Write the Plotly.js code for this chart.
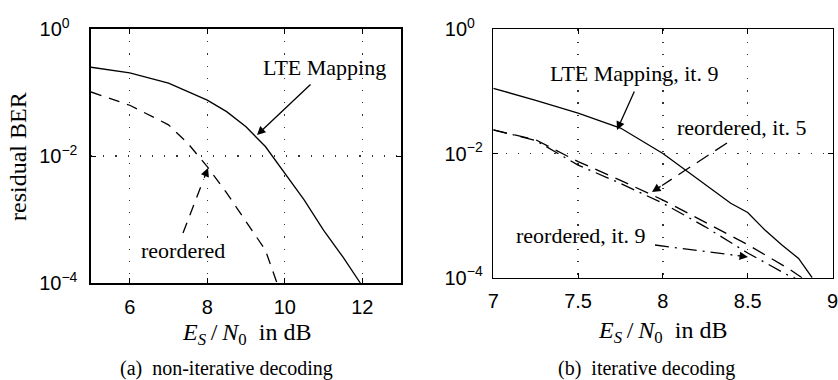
<!DOCTYPE html>
<html>
<head>
<meta charset="utf-8">
<script src="https://cdn.plot.ly/plotly-3.0.1.min.js"></script>
<style>html,body{margin:0;padding:0;background:#fff;}#chart{width:838px;height:380px;}</style>
</head>
<body>
<div id="chart"></div>
<script>
// ---- Data: panel (a) non-iterative decoding ----
const esnoA_lte = [5, 6, 7, 8, 8.5, 9, 9.5, 10, 10.5, 11, 11.5, 11.95];
const berA_lte  = [0.25, 0.204, 0.14, 0.076, 0.050, 0.0288, 0.0141, 0.0054, 0.00204, 0.00068, 0.000257, 0.0001];
const esnoA_reo = [5, 6, 7, 7.5, 8, 8.5, 9, 9.5, 9.8];
const berA_reo  = [0.102, 0.063, 0.031, 0.0158, 0.0068, 0.00263, 0.00093, 0.00033, 0.0001];

// ---- Data: panel (b) iterative decoding ----
const esnoB_lte = [7, 7.25, 7.5, 7.75, 8, 8.25, 8.4, 8.5, 8.6, 8.7, 8.8, 8.88];
const berB_lte  = [0.112, 0.072, 0.0447, 0.0257, 0.0100, 0.0031, 0.00158, 0.00112, 0.00059, 0.00034, 0.000204, 0.0001];
const esnoB_it5 = [7, 7.25, 7.5, 7.75, 8, 8.25, 8.5, 8.75, 8.82];
const berB_it5  = [0.024, 0.0166, 0.0074, 0.0037, 0.00178, 0.00079, 0.00034, 0.000135, 0.0001];
const esnoB_it9 = [7, 7.25, 7.5, 7.75, 8, 8.25, 8.5, 8.75, 8.78];
const berB_it9  = [0.024, 0.0162, 0.0065, 0.0033, 0.00158, 0.00066, 0.00025, 0.000105, 0.0001];

const xTicksA = [6, 8, 10, 12];
const xTicksB = [7, 7.5, 8, 8.5, 9];
const yTickVals = [1, 0.01, 0.0001];
const yTickText = ['10<sup>0\u2007</sup>', '10<sup>\u22122</sup>', '10<sup>\u22124</sup>'];

const W = 838, H = 380;
const px = v => v / W;
const py = v => 1 - v / H;

const serif = 'Liberation Serif';
const sans = 'Liberation Sans';

const lineStyle = {color: '#000', width: 1.3};

const traces = [
  {x: esnoA_lte, y: berA_lte, xaxis: 'x', yaxis: 'y', mode: 'lines', line: Object.assign({}, lineStyle), name: 'LTE Mapping'},
  {x: esnoA_reo, y: berA_reo, xaxis: 'x', yaxis: 'y', mode: 'lines', line: Object.assign({dash: '11px,8px'}, lineStyle), name: 'reordered'},
  {x: esnoB_lte, y: berB_lte, xaxis: 'x2', yaxis: 'y2', mode: 'lines', line: Object.assign({}, lineStyle), name: 'LTE Mapping, it. 9'},
  {x: esnoB_it5, y: berB_it5, xaxis: 'x2', yaxis: 'y2', mode: 'lines', line: Object.assign({dash: '14px,8px'}, lineStyle), name: 'reordered, it. 5'},
  {x: esnoB_it9, y: berB_it9, xaxis: 'x2', yaxis: 'y2', mode: 'lines', line: Object.assign({dash: '14px,6px,2px,6px'}, lineStyle), name: 'reordered, it. 9'}
];

const xBase = {
  showline: true, linecolor: '#000', linewidth: 1.6, mirror: 'allticks',
  ticks: 'inside', ticklen: 5, tickcolor: '#000', tickwidth: 1,
  showgrid: true, gridcolor: '#333', gridwidth: 1.2, griddash: '1.2px,11px',
  zeroline: false, tickfont: {family: sans, size: 20, color: '#000'},
  ticklabeloverflow: 'allow',
  fixedrange: true
};

const layout = {
  width: W, height: H,
  margin: {l: 0, r: 0, t: 0, b: 0},
  paper_bgcolor: '#fff', plot_bgcolor: '#fff',
  showlegend: false,
  font: {family: serif, color: '#000'},
  xaxis: Object.assign({}, xBase, {domain: [px(91), px(401)], range: [5, 13], tickvals: xTicksA, anchor: 'y', ticklabelstandoff: 5}),
  yaxis: Object.assign({}, xBase, {domain: [py(283), py(29)], type: 'log', range: [-4, 0], tickvals: yTickVals, ticktext: yTickText, anchor: 'x', ticklabelstandoff: 8}),
  xaxis2: Object.assign({}, xBase, {domain: [px(493.3), px(832.5)], range: [7, 9], tickvals: xTicksB, anchor: 'y2', ticklabelstandoff: 5}),
  yaxis2: Object.assign({}, xBase, {domain: [py(277.7), py(29.3)], type: 'log', range: [-4, 0], tickvals: yTickVals, ticktext: yTickText, anchor: 'x2', ticklabelstandoff: 5}),
  annotations: [],
  shapes: []
};

const ann = layout.annotations;
const txt = (text, x, y, size, extra) => ann.push(Object.assign({
  text: text, xref: 'paper', yref: 'paper', x: px(x), y: py(y),
  xanchor: 'center', yanchor: 'middle', showarrow: false,
  font: {family: serif, size: size, color: '#000'}
}, extra || {}));

const xTitle = '<i>E</i><sub><i>S</i></sub>\u2009/\u2009<i>N</i><sub>0</sub>\u2002in dB';

// axis titles & captions
txt('residual BER', 18, 157, 24, {textangle: -90});
txt(xTitle, 246, 334, 24);
txt(xTitle, 662, 332, 24);
txt('(a)  non-iterative decoding', 226, 368, 20);
txt('(b)  iterative decoding', 646, 368, 20);

// in-plot labels
txt('LTE Mapping', 324, 67, 22);
txt('reordered', 183, 250, 22);
txt('LTE Mapping, it. 9', 634, 73, 22);
txt('reordered, it. 5', 742, 127, 22);
txt('reordered, it. 9', 581, 235, 22);

// arrows: head in pixel coords, tail in pixel coords
function arrow(hx, hy, tx, ty, dash) {
  if (!dash) {
    ann.push({text: '', xref: 'paper', yref: 'paper', x: px(hx), y: py(hy),
      axref: 'pixel', ayref: 'pixel', ax: tx - hx, ay: ty - hy,
      showarrow: true, arrowhead: 2, arrowsize: 1.3, arrowwidth: 1.3, arrowcolor: '#000'});
  } else {
    const dx = tx - hx, dy = ty - hy, L = Math.hypot(dx, dy);
    const k = 12 / L;
    ann.push({text: '', xref: 'paper', yref: 'paper', x: px(hx), y: py(hy),
      axref: 'pixel', ayref: 'pixel', ax: dx * k, ay: dy * k,
      showarrow: true, arrowhead: 2, arrowsize: 1.3, arrowwidth: 1.3, arrowcolor: '#000'});
    layout.shapes.push({type: 'line', xref: 'paper', yref: 'paper',
      x0: px(tx), y0: py(ty), x1: px(hx + dx * k), y1: py(hy + dy * k),
      line: {color: '#000', width: 1.3, dash: dash}});
  }
}
arrow(257, 135, 312, 83);
arrow(208, 168, 183, 233, '11px,8px');
arrow(617, 130, 635, 90);
arrow(652, 192, 727, 143, '14px,8px');
arrow(748, 257, 655, 245, '14px,6px,2px,6px');

Plotly.newPlot('chart', traces, layout, {staticPlot: true, displayModeBar: false});
</script>
</body>
</html>
